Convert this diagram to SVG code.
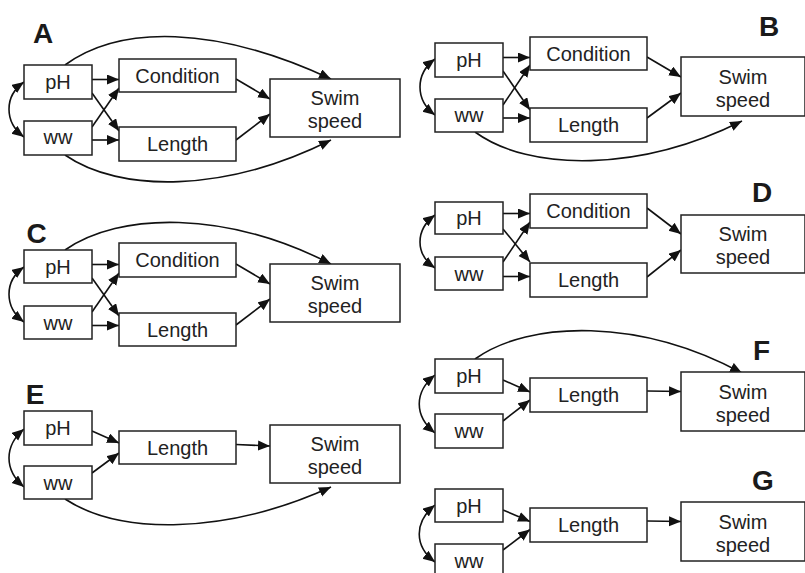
<svg xmlns="http://www.w3.org/2000/svg" width="805" height="573" viewBox="0 0 805 573">
<style>
.b{fill:#fff;stroke:#222;stroke-width:1.5}
.t{font-family:"Liberation Sans",Arial,sans-serif;font-size:20px;fill:#222;text-anchor:middle}
.L{font-family:"Liberation Sans",Arial,sans-serif;font-size:28px;font-weight:bold;fill:#1a1a1a;text-anchor:middle}
.c{fill:none;stroke:#111;stroke-width:1.6}
</style>
<defs>
<marker id="ah" markerUnits="userSpaceOnUse" markerWidth="13" markerHeight="11" refX="12" refY="5" orient="auto-start-reverse" viewBox="0 0 13 11">
<path d="M0,0 L12,5 L0,10 z" fill="#111"/>
</marker>
</defs>
<rect width="805" height="573" fill="#fff"/>

<g id="labels">
<text class="L" x="43" y="43">A</text>
<text class="L" x="769" y="36">B</text>
<text class="L" x="36.5" y="243">C</text>
<text class="L" x="762" y="202">D</text>
<text class="L" x="35" y="404">E</text>
<text class="L" x="761.5" y="360">F</text>
<text class="L" x="763" y="490">G</text>
</g>

<g id="connectors">
<!-- A -->
<path class="c" marker-end="url(#ah)" d="M92,79.5 H119"/>
<path class="c" marker-end="url(#ah)" d="M92,140 H119"/>
<path class="c" marker-end="url(#ah)" d="M92,93 L119,131"/>
<path class="c" marker-end="url(#ah)" d="M92,127 L119,88"/>
<path class="c" marker-end="url(#ah)" d="M236,79 L270,99"/>
<path class="c" marker-end="url(#ah)" d="M236,140 L270,114"/>
<path class="c" marker-end="url(#ah)" d="M65,65 C120,25 215,25 331,79"/>
<path class="c" marker-end="url(#ah)" d="M65,155 C120,193 225,193 331,140"/>
<path class="c" marker-start="url(#ah)" marker-end="url(#ah)" d="M24,82 C4,96 4,122 24,137"/>
<!-- B -->
<path class="c" marker-end="url(#ah)" d="M503,57.5 H530"/>
<path class="c" marker-end="url(#ah)" d="M503,118 H530"/>
<path class="c" marker-end="url(#ah)" d="M503,71 L530,110"/>
<path class="c" marker-end="url(#ah)" d="M503,105 L530,65"/>
<path class="c" marker-end="url(#ah)" d="M647,57 L681,77"/>
<path class="c" marker-end="url(#ah)" d="M647,118 L681,93"/>
<path class="c" marker-end="url(#ah)" d="M475,132 C530,172 640,172 742,121"/>
<path class="c" marker-start="url(#ah)" marker-end="url(#ah)" d="M435,59 C415,74 415,100 435,115"/>
<!-- C -->
<path class="c" marker-end="url(#ah)" d="M92,264.5 H119"/>
<path class="c" marker-end="url(#ah)" d="M92,325.5 H119"/>
<path class="c" marker-end="url(#ah)" d="M92,278 L119,316"/>
<path class="c" marker-end="url(#ah)" d="M92,312 L119,273"/>
<path class="c" marker-end="url(#ah)" d="M236,264 L270,284"/>
<path class="c" marker-end="url(#ah)" d="M236,325 L270,299"/>
<path class="c" marker-end="url(#ah)" d="M65,250 C120,212 225,210 331,264"/>
<path class="c" marker-start="url(#ah)" marker-end="url(#ah)" d="M24,267 C4,281 4,307 24,322"/>
<!-- D -->
<path class="c" marker-end="url(#ah)" d="M503,213.5 H530"/>
<path class="c" marker-end="url(#ah)" d="M503,276.5 H530"/>
<path class="c" marker-end="url(#ah)" d="M503,229 L530,262"/>
<path class="c" marker-end="url(#ah)" d="M503,262 L530,222"/>
<path class="c" marker-end="url(#ah)" d="M647,208 L681,234"/>
<path class="c" marker-end="url(#ah)" d="M647,277 L681,250"/>
<path class="c" marker-start="url(#ah)" marker-end="url(#ah)" d="M435,215 C415,230 415,254 435,268"/>
<!-- E -->
<path class="c" marker-end="url(#ah)" d="M92,431 L119,443"/>
<path class="c" marker-end="url(#ah)" d="M92,473 L119,453"/>
<path class="c" marker-end="url(#ah)" d="M236,444.5 L270,446"/>
<path class="c" marker-end="url(#ah)" d="M65,499 C120,535 225,535 331,487"/>
<path class="c" marker-start="url(#ah)" marker-end="url(#ah)" d="M24,429 C4,446 4,470 24,487"/>
<!-- F -->
<path class="c" marker-end="url(#ah)" d="M503,380 L530,392"/>
<path class="c" marker-end="url(#ah)" d="M503,421 L530,400"/>
<path class="c" marker-end="url(#ah)" d="M647,391 L681,391.5"/>
<path class="c" marker-end="url(#ah)" d="M475,359 C530,320 640,318 742,373"/>
<path class="c" marker-start="url(#ah)" marker-end="url(#ah)" d="M435,375 C414,392 414,416 435,433"/>
<!-- G -->
<path class="c" marker-end="url(#ah)" d="M503,510 L530,521.5"/>
<path class="c" marker-end="url(#ah)" d="M503,550 L530,529.5"/>
<path class="c" marker-end="url(#ah)" d="M647,521 L681,521.5"/>
<path class="c" marker-start="url(#ah)" marker-end="url(#ah)" d="M435,505 C414,522 414,546 435,562"/>
</g>

<!-- Panel A nodes -->
<g id="A-pH"><rect class="b" x="24" y="65" width="68" height="34"/><text class="t" x="58" y="89">pH</text></g>
<g id="A-ww"><rect class="b" x="24" y="121" width="68" height="34"/><text class="t" x="58" y="144">ww</text></g>
<g id="A-condition"><rect class="b" x="119" y="59" width="117" height="33"/><text class="t" x="177.5" y="83">Condition</text></g>
<g id="A-length"><rect class="b" x="119" y="127" width="117" height="34"/><text class="t" x="177.5" y="151">Length</text></g>
<g id="A-swim"><rect class="b" x="270" y="79" width="130" height="58"/><text class="t" x="335" y="105">Swim</text><text class="t" x="335" y="128">speed</text></g>

<!-- Panel B nodes -->
<g id="B-pH"><rect class="b" x="435" y="43" width="68" height="34"/><text class="t" x="469" y="67">pH</text></g>
<g id="B-ww"><rect class="b" x="435" y="99" width="68" height="33"/><text class="t" x="469" y="122">ww</text></g>
<g id="B-condition"><rect class="b" x="530" y="37" width="117" height="33"/><text class="t" x="588.5" y="61">Condition</text></g>
<g id="B-length"><rect class="b" x="530" y="108" width="117" height="34"/><text class="t" x="588.5" y="132">Length</text></g>
<g id="B-swim"><rect class="b" x="681" y="57" width="124" height="59"/><text class="t" x="743" y="83.5">Swim</text><text class="t" x="743" y="106.5">speed</text></g>

<!-- Panel C nodes -->
<g id="C-pH"><rect class="b" x="24" y="250" width="68" height="33"/><text class="t" x="58" y="273.5">pH</text></g>
<g id="C-ww"><rect class="b" x="24" y="306" width="68" height="33"/><text class="t" x="58" y="329.5">ww</text></g>
<g id="C-condition"><rect class="b" x="119" y="243" width="117" height="34"/><text class="t" x="177.5" y="267">Condition</text></g>
<g id="C-length"><rect class="b" x="119" y="313" width="117" height="33"/><text class="t" x="177.5" y="336.5">Length</text></g>
<g id="C-swim"><rect class="b" x="270" y="264" width="130" height="58"/><text class="t" x="335" y="290">Swim</text><text class="t" x="335" y="313">speed</text></g>

<!-- Panel D nodes -->
<g id="D-pH"><rect class="b" x="435" y="202" width="68" height="32"/><text class="t" x="469" y="225">pH</text></g>
<g id="D-ww"><rect class="b" x="435" y="257" width="68" height="33"/><text class="t" x="469" y="280.5">ww</text></g>
<g id="D-condition"><rect class="b" x="530" y="194" width="117" height="34"/><text class="t" x="588.5" y="218">Condition</text></g>
<g id="D-length"><rect class="b" x="530" y="263" width="117" height="34"/><text class="t" x="588.5" y="287">Length</text></g>
<g id="D-swim"><rect class="b" x="681" y="215" width="124" height="58"/><text class="t" x="743" y="241">Swim</text><text class="t" x="743" y="264">speed</text></g>

<!-- Panel E nodes -->
<g id="E-pH"><rect class="b" x="24" y="411" width="68" height="34"/><text class="t" x="58" y="435">pH</text></g>
<g id="E-ww"><rect class="b" x="24" y="466" width="68" height="33"/><text class="t" x="58" y="489.5">ww</text></g>
<g id="E-length"><rect class="b" x="119" y="431" width="117" height="33"/><text class="t" x="177.5" y="454.5">Length</text></g>
<g id="E-swim"><rect class="b" x="270" y="425" width="130" height="58"/><text class="t" x="335" y="451">Swim</text><text class="t" x="335" y="474">speed</text></g>

<!-- Panel F nodes -->
<g id="F-pH"><rect class="b" x="435" y="359" width="68" height="34"/><text class="t" x="469" y="383">pH</text></g>
<g id="F-ww"><rect class="b" x="435" y="414" width="68" height="34"/><text class="t" x="469" y="438">ww</text></g>
<g id="F-length"><rect class="b" x="530" y="378" width="117" height="34"/><text class="t" x="588.5" y="402">Length</text></g>
<g id="F-swim"><rect class="b" x="681" y="372" width="124" height="59"/><text class="t" x="743" y="398.5">Swim</text><text class="t" x="743" y="421.5">speed</text></g>

<!-- Panel G nodes -->
<g id="G-pH"><rect class="b" x="435" y="489" width="68" height="33"/><text class="t" x="469" y="512.5">pH</text></g>
<g id="G-ww"><rect class="b" x="435" y="544" width="68" height="34"/><text class="t" x="469" y="568">ww</text></g>
<g id="G-length"><rect class="b" x="530" y="508" width="117" height="34"/><text class="t" x="588.5" y="532">Length</text></g>
<g id="G-swim"><rect class="b" x="681" y="502" width="124" height="59"/><text class="t" x="743" y="528.5">Swim</text><text class="t" x="743" y="551.5">speed</text></g>
</svg>
